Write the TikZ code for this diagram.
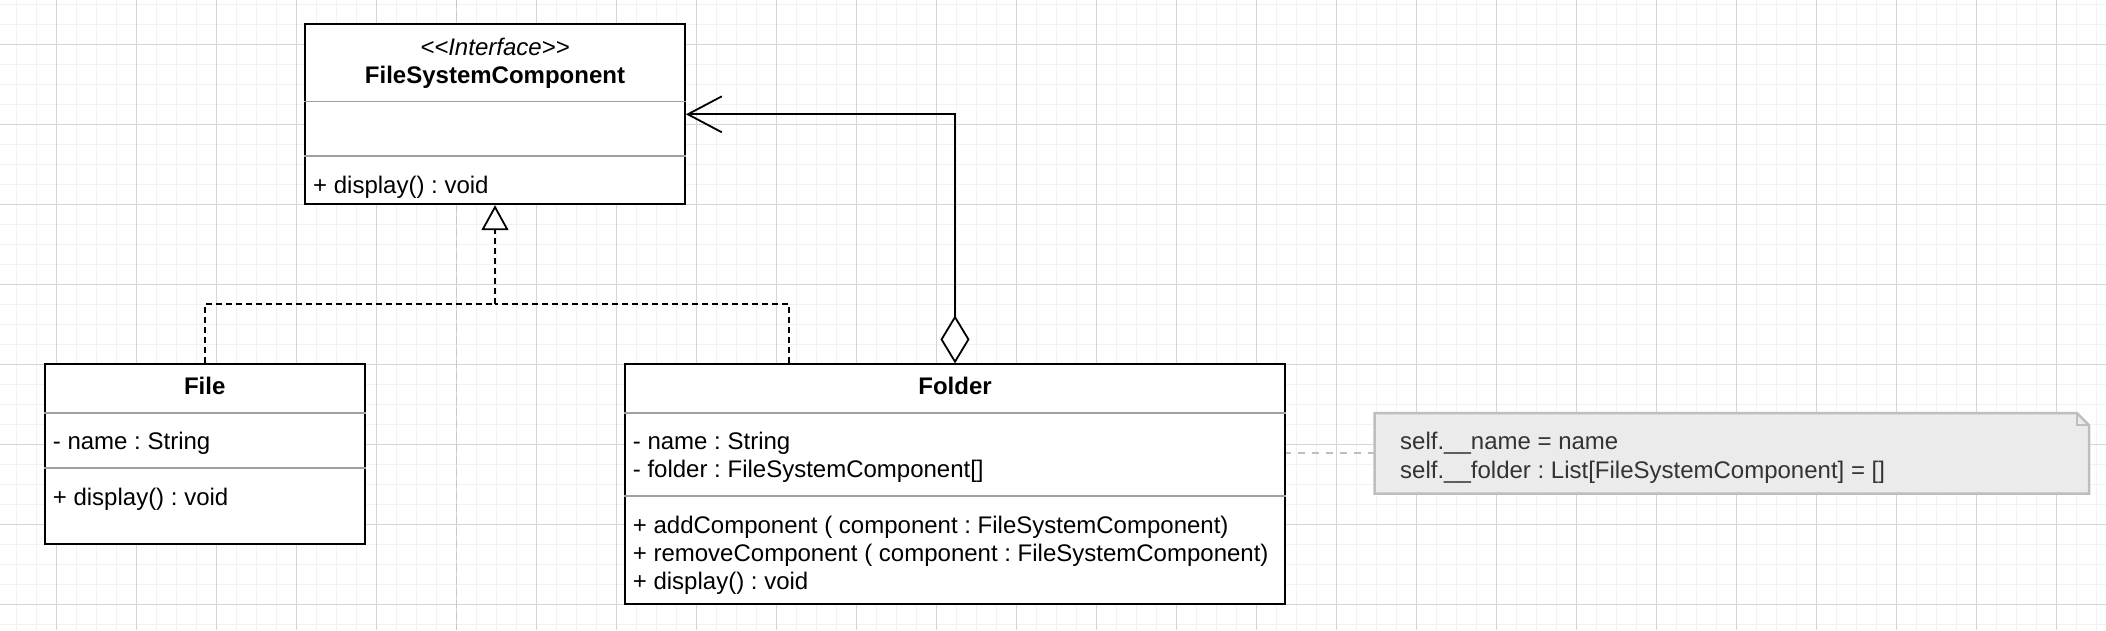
\documentclass[tikz,border=0pt]{standalone}
\usepackage{fontspec}
\setmainfont{Liberation Sans}
\usetikzlibrary{arrows.meta,positioning}
\frenchspacing

\definecolor{gridminor}{HTML}{F2F2F2}
\definecolor{gridmajor}{HTML}{D5D5D5}
\definecolor{pagebreak}{HTML}{C8C8C8}
\definecolor{sepgrey}{HTML}{A0A0A0}
\definecolor{notefill}{HTML}{EBEBEB}
\definecolor{noteline}{HTML}{BEBEBE}
\definecolor{notetext}{HTML}{333333}

\begin{document}
\begin{tikzpicture}[x=1pt,y=-1pt,
		font=\fontsize{24}{28}\selectfont,
		classbox/.style={draw=black,line width=1.8pt,fill=white,inner sep=0pt},
		classname/.style={anchor=base,inner sep=0pt,font=\fontsize{24}{28}\selectfont\bfseries},
		member/.style={anchor=base west,inner sep=0pt},
		sep/.style={draw=sepgrey,line width=1.5pt},
		realize/.style={line width=1.8pt,dash pattern=on 6pt off 4pt},
		aggr/.style={line width=1.8pt},
		notelink/.style={draw=noteline,line width=2pt,dash pattern=on 7pt off 7pt}]
	\useasboundingbox (0,0) rectangle (2106,630);
	\fill[white] (0,0) rectangle (2106,630);
	\foreach \gx in {16.7,36.7,...,2106}
		\draw[gridminor,line width=1pt] (\gx,0) -- (\gx,630);
	\foreach \gy in {4.3,24.3,...,630}
		\draw[gridminor,line width=1pt] (0,\gy) -- (2106,\gy);
	\foreach \gx in {56.7,136.7,...,2106}
		\draw[gridmajor,line width=1pt] (\gx,0) -- (\gx,630);
	\foreach \gy in {44.3,124.3,...,630}
		\draw[gridmajor,line width=1pt] (0,\gy) -- (2106,\gy);
	\draw[pagebreak,line width=1.5pt,dash pattern=on 8pt off 4pt] (456.7,0) -- (456.7,630);
	
	\draw (495,114.3) node[classbox,minimum width=380pt,minimum height=180pt] (FSC) {};
	\draw[sep] ([yshift=-78pt]FSC.north west) -- ([yshift=-78pt]FSC.north east);
	\draw[sep] ([yshift=-132.7pt]FSC.north west) -- ([yshift=-132.7pt]FSC.north east);
	\draw (495,55.5) node[anchor=base,inner sep=0pt,font=\fontsize{24}{28}\selectfont\itshape] (FSCstereo) {<\kern0pt<Interface>\kern0pt>};
	\draw (495,83.3) node[classname] (FSCname) {FileSystemComponent};
	\draw (313,193) node[member] (FSCop) {+ display() : void};
	
	\draw (204.75,454.3) node[classbox,minimum width=320pt,minimum height=180pt] (File) {};
	\draw[sep] ([yshift=-49.7pt]File.north west) -- ([yshift=-49.7pt]File.north east);
	\draw[sep] ([yshift=-104.7pt]File.north west) -- ([yshift=-104.7pt]File.north east);
	\draw (204.75,394) node[classname] (Filename) {File};
	\draw (52.7,449.5) node[member] (Fileattr) {- name : String};
	\draw (52.7,505) node[member] (Fileop) {+ display() : void};
	
	\draw (955,484.3) node[classbox,minimum width=660pt,minimum height=240pt] (Folder) {};
	\draw[sep] ([yshift=-49.7pt]Folder.north west) -- ([yshift=-49.7pt]Folder.north east);
	\draw[sep] ([yshift=-132.7pt]Folder.north west) -- ([yshift=-132.7pt]Folder.north east);
	\draw (955,394) node[classname] (Foldername) {Folder};
	\draw (632.7,449.5) node[member] (Folderattra) {- name : String};
	\draw (632.7,477.5) node[member] (Folderattrb) {- folder : FileSystemComponent[]};
	\draw (632.7,533) node[member] (Folderopa) {+ addComponent ( component : FileSystemComponent)};
	\draw (632.7,561) node[member] (Folderopb) {+ removeComponent ( component : FileSystemComponent)};
	\draw (632.7,589) node[member] (Folderopc) {+ display() : void};
	
	\draw (1731.85,453.3) node[minimum width=714pt,minimum height=80pt,inner sep=0pt] (note) {};
	\draw[noteline,fill=notefill,line width=2.5pt] (note.north west) -- ([xshift=-12pt]note.north east) -- ([yshift=-12pt]note.north east) -- (note.south east) -- (note.south west) -- cycle;
	\draw[noteline,line width=2pt] ([xshift=-12pt]note.north east) -- ([xshift=-12pt,yshift=-12pt]note.north east) -- ([yshift=-12pt]note.north east);
	\draw (1400,449) node[member,text=notetext] (notea) {self.\_\_name = name};
	\draw (1400,478) node[member,text=notetext] (noteb) {self.\_\_folder : List[FileSystemComponent] = []};
	
	\coordinate (joint) at (495,304.3);
	\draw[realize,-{Triangle[fill=white,length=25pt,width=27pt]}] (File.north) |- (joint) -- (FSC.south);
	\draw[realize] ([xshift=-166pt]Folder.north) |- (joint);
	\draw[aggr,{Diamond[fill=white,length=48pt,width=29pt]}-{Straight Barb[length=34pt,width=36pt]}] (Folder.north) |- (FSC.east);
	\draw[notelink] (note.west) -- (Folder.east |- note.west);
\end{tikzpicture}
\end{document}
